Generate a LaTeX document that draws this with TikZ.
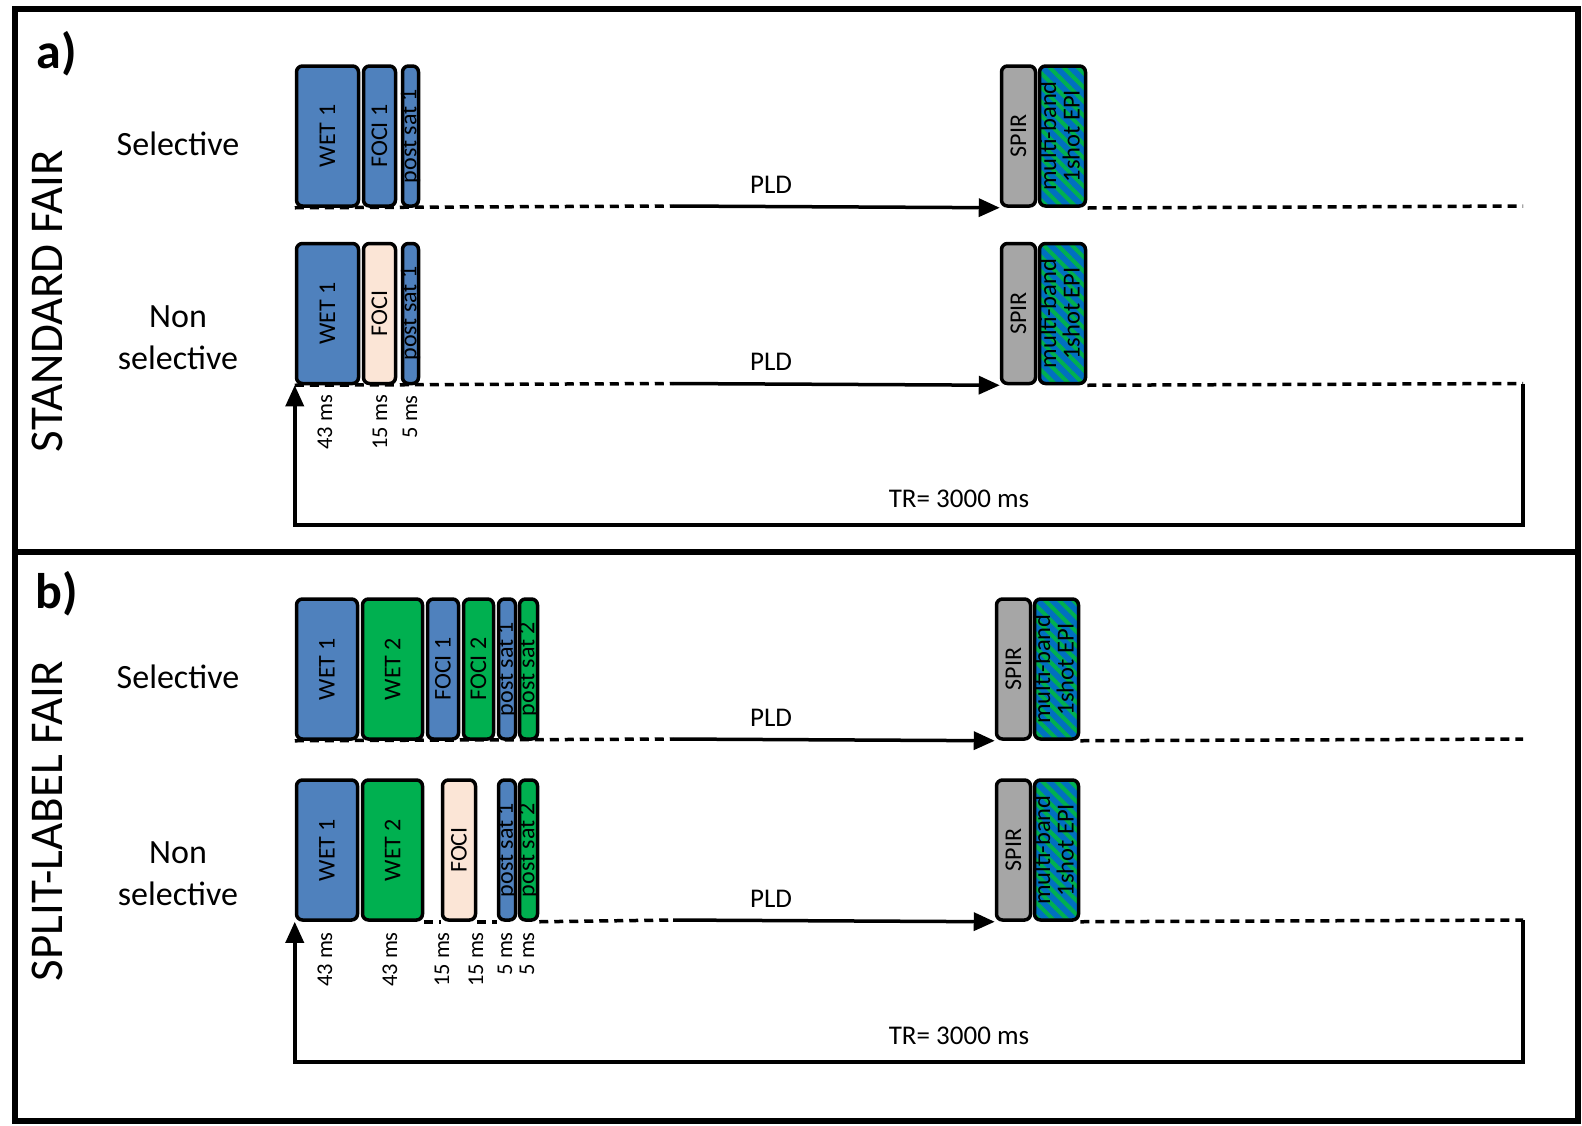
\documentclass[tikz,border=0pt]{standalone}
\usepackage{fontspec}
\setmainfont{Carlito}
\usetikzlibrary{arrows.meta,patterns.meta}

\definecolor{wetblue}{HTML}{4F81BD}
\definecolor{wetgreen}{HTML}{00B050}
\definecolor{focipeach}{HTML}{FBE5D6}
\definecolor{spirgray}{HTML}{A6A6A6}
\definecolor{epiblue}{HTML}{0070C0}

\newcommand{\vtext}[1]{\makebox[0pt]{\rotatebox{90}{#1}}}

\begin{document}
\begin{tikzpicture}[x=1pt,y=-1pt,
    blk/.style={draw,line width=3.5pt,rounded corners=6pt,minimum height=140pt,inner sep=0pt,
        font=\fontsize{24}{26}\selectfont},
    blueblk/.style={blk,fill=wetblue},
    greenblk/.style={blk,fill=wetgreen},
    peachblk/.style={blk,fill=focipeach},
    spirblk/.style={blk,fill=spirgray,minimum width=34pt},
    epiblk/.style={blk,preaction={fill=epiblue},pattern={Lines[angle=-45,distance=10pt,line width=4pt]},
        pattern color=wetgreen,font=\fontsize{24.5}{21}\selectfont},
    frame/.style={line width=6pt},
    conn/.style={line width=3.5pt},
    dashline/.style={conn,dash pattern=on 9pt off 6pt},
    arr/.style={conn,-{Triangle[length=21pt,width=18pt]}},
    panel/.style={font=\fontsize{50}{50}\selectfont\bfseries},
    title/.style={rotate=90,font=\fontsize{47}{47}\selectfont},
    lbl/.style={font=\fontsize{34}{42}\selectfont},
    plab/.style={font=\fontsize{27}{27}\selectfont},
    mslab/.style={rotate=90,anchor=east,inner sep=0pt,font=\fontsize{22.5}{22}\selectfont}]
    \useasboundingbox (0,0) rectangle (1582,1125);

    % Panel frames
    \draw[frame] (15,9) rectangle (1578,551.5);
    \draw[frame] (15,551.5) rectangle (1578,1121);

    % ---------- a) standard FAIR ----------
    \node[panel] (alab) at (57,54) {a)};
    \node[title] (atitle) at (47.5,301) {STANDARD FAIR};
    \node[lbl,anchor=base] (asel) at (178,155) {Selective};
    \node[lbl,align=center] (anon) at (178,337.5) {Non\\selective};

    % Selective row
    \node[blueblk,minimum width=62pt] (a1wet) at (327.5,136) {\vtext{WET 1}};
    \node[blueblk,minimum width=32pt] (a1foci) at (379.5,136) {\vtext{FOCI 1}};
    \node[blueblk,minimum width=16pt] (a1post) at (410.5,136) {\vtext{post sat 1}};
    \node[spirblk] (a1spir) at (1018.5,136) {\vtext{SPIR}};
    \node[epiblk,minimum width=46pt] (a1epi) at (1062.5,136)
        {\vtext{\begin{tabular}{@{}c@{}}multi-band\\1shot EPI\end{tabular}}};
    \coordinate (a1pld) at (673,206);
    \coordinate (a1end) at (1523,206);
    \draw[dashline] (a1wet.south west) -- (a1pld);
    \draw[arr] (a1pld) -- (a1spir.south west);
    \draw[dashline] (a1epi.south east) -- (a1end);
    \node[plab] (a1pl) at (771,185) {PLD};

    % Non selective row
    \node[blueblk,minimum width=62pt] (a2wet) at (327.5,313.5) {\vtext{WET 1}};
    \node[peachblk,minimum width=32pt] (a2foci) at (379.5,313.5) {\vtext{FOCI}};
    \node[blueblk,minimum width=16pt] (a2post) at (410.5,313.5) {\vtext{post sat 1}};
    \node[spirblk] (a2spir) at (1018.5,313.5) {\vtext{SPIR}};
    \node[epiblk,minimum width=46pt] (a2epi) at (1062.5,313.5)
        {\vtext{\begin{tabular}{@{}c@{}}multi-band\\1shot EPI\end{tabular}}};
    \coordinate (a2pld) at (673,383.5);
    \coordinate (a2end) at (1523,383.5);
    \coordinate (aloop) at (1523,525);
    \draw[dashline] (a2wet.south west) -- (a2pld);
    \draw[arr] (a2pld) -- (a2spir.south west);
    \draw[dashline] (a2epi.south east) -- (a2end);
    \draw[arr] (a2end) -- (aloop) -| (a2wet.south west);
    \node[plab] (a2pl) at (771,362) {PLD};
    \node[plab] (atr) at (959,499) {TR= 3000 ms};

    % durations
    \node[mslab] (ams1) at (325,395) {43 ms};
    \node[mslab] (ams2) at (380,395) {15 ms};
    \node[mslab] (ams3) at (410,395) {5 ms};

    % ---------- b) split-label FAIR ----------
    \node[panel] (blab) at (57,594) {b)};
    \node[title] (btitle) at (47.5,821) {SPLIT-LABEL FAIR};
    \node[lbl,anchor=base] (bsel) at (178,688) {Selective};
    \node[lbl,align=center] (bnon) at (178,874) {Non\\selective};

    % Selective row
    \node[blueblk,minimum width=61pt] (b1wet1) at (327,669) {\vtext{WET 1}};
    \node[greenblk,minimum width=60pt] (b1wet2) at (392.5,669) {\vtext{WET 2}};
    \node[blueblk,minimum width=31pt] (b1foci1) at (443,669) {\vtext{FOCI 1}};
    \node[greenblk,minimum width=30pt] (b1foci2) at (478.5,669) {\vtext{FOCI 2}};
    \node[blueblk,minimum width=17pt] (b1post1) at (507,669) {\vtext{post sat 1}};
    \node[greenblk,minimum width=18pt] (b1post2) at (528.5,669) {\vtext{post sat 2}};
    \node[spirblk] (b1spir) at (1013.5,669) {\vtext{SPIR}};
    \node[epiblk,minimum width=44pt] (b1epi) at (1056.5,669)
        {\vtext{\begin{tabular}{@{}c@{}}multi-band\\1shot EPI\end{tabular}}};
    \coordinate (b1pld) at (673,739);
    \coordinate (b1end) at (1523,739);
    \draw[dashline] (b1wet1.south west) -- (b1pld);
    \draw[arr] (b1pld) -- (b1spir.south west);
    \draw[dashline] (b1epi.south east) -- (b1end);
    \node[plab] (b1pl) at (771,718) {PLD};

    % Non selective row
    \node[blueblk,minimum width=61pt] (b2wet1) at (327,850) {\vtext{WET 1}};
    \node[greenblk,minimum width=60pt] (b2wet2) at (392.5,850) {\vtext{WET 2}};
    \node[peachblk,minimum width=33pt] (b2foci) at (459,850) {\vtext{FOCI}};
    \node[blueblk,minimum width=17pt] (b2post1) at (507,850) {\vtext{post sat 1}};
    \node[greenblk,minimum width=18pt] (b2post2) at (528.5,850) {\vtext{post sat 2}};
    \node[spirblk] (b2spir) at (1013.5,850) {\vtext{SPIR}};
    \node[epiblk,minimum width=44pt] (b2epi) at (1056.5,850)
        {\vtext{\begin{tabular}{@{}c@{}}multi-band\\1shot EPI\end{tabular}}};
    \coordinate (b2pld) at (673,920);
    \coordinate (b2end) at (1523,920);
    \coordinate (bloop) at (1523,1062);
    \draw[dashline] (b2wet2.south east) -- (b2foci.south west);
    \draw[dashline] (b2foci.south east) -- (b2post1.south west);
    \draw[dashline] (b2post2.south east) -- (b2pld);
    \draw[arr] (b2pld) -- (b2spir.south west);
    \draw[dashline] (b2epi.south east) -- (b2end);
    \draw[arr] (b2end) -- (bloop) -| (b2wet1.south west);
    \node[plab] (b2pl) at (771,899) {PLD};
    \node[plab] (btr) at (959,1036) {TR= 3000 ms};

    % durations
    \node[mslab] (bms1) at (325,932) {43 ms};
    \node[mslab] (bms2) at (390,932) {43 ms};
    \node[mslab] (bms3) at (442,932) {15 ms};
    \node[mslab] (bms4) at (476,932) {15 ms};
    \node[mslab] (bms5) at (505,932) {5 ms};
    \node[mslab] (bms6) at (527,932) {5 ms};
\end{tikzpicture}
\end{document}
